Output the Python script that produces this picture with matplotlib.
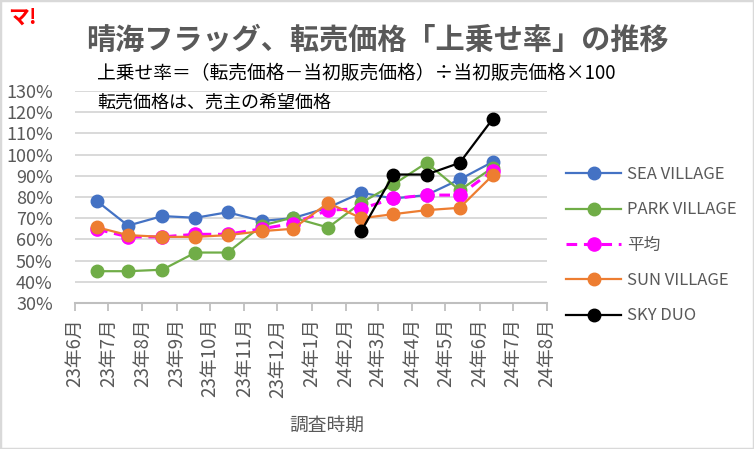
import matplotlib
matplotlib.use('Agg')
import matplotlib.pyplot as plt
from matplotlib.patches import Rectangle
import numpy as np
import pandas as pd

plt.rcParams['font.family'] = ['Noto Sans CJK JP', 'DejaVu Sans']

# ---------------- data ----------------
survey_dates = ['2023-06-21', '2023-07-19', '2023-08-19', '2023-09-18', '2023-10-17',
                '2023-11-17', '2023-12-15', '2024-01-16', '2024-02-15', '2024-03-15',
                '2024-04-14', '2024-05-14', '2024-06-13']
sea_village = [78.0, 66.5, 71.0, 70.2, 72.8, 68.7, 70.0, 75.0, 82.0, 79.3, 80.9, 88.3, 96.6]
park_village = [45.0, 45.0, 45.7, 53.8, 53.8, 66.5, 70.3, 65.6, 77.3, 85.9, 96.1, 83.2, 93.9]
average = [64.8, 61.2, 61.2, 62.4, 62.4, 65.0, 67.5, 73.8, 74.5, 79.3, 80.9, 80.9, 92.4]
sun_village = [65.7, 62.0, 61.2, 61.2, 62.0, 63.9, 65.0, 77.2, 70.0, 71.9, 73.8, 74.9, 90.3]
sky_duo = [np.nan] * 8 + [63.9, 90.6, 90.6, 96.1, 116.9]

tick_months = ['2023-06-01', '2023-07-01', '2023-08-01', '2023-09-01', '2023-10-01',
               '2023-11-01', '2023-12-01', '2024-01-01', '2024-02-01', '2024-03-01',
               '2024-04-01', '2024-05-01', '2024-06-01', '2024-07-01', '2024-08-01']
tick_labels = ['23年6月', '23年7月', '23年8月', '23年9月', '23年10月', '23年11月', '23年12月',
               '24年1月', '24年2月', '24年3月', '24年4月', '24年5月', '24年6月', '24年7月', '24年8月']
y_ticks = [30, 40, 50, 60, 70, 80, 90, 100, 110, 120, 130]

series_names = ['SEA VILLAGE', 'PARK VILLAGE', '平均', 'SUN VILLAGE', 'SKY DUO']
series_values = [sea_village, park_village, average, sun_village, sky_duo]
series_colors = ['#4472C4', '#70AD47', '#FF00FF', '#ED7D31', '#000000']

# ---------------- figure ----------------
W, H = 754, 449
fig = plt.figure(figsize=(W / 100, H / 100), dpi=100)
fig.patches.append(Rectangle((0, 0), 1, 1, transform=fig.transFigure, fill=False,
                             edgecolor='#D9D9D9', linewidth=2.5))

ax = fig.add_axes([75 / W, (H - 303) / H, 472 / W, 212 / H])

x = pd.to_datetime(survey_dates)
for name, vals, col in zip(series_names, series_values, series_colors):
    if name == '平均':
        ax.plot(x, vals, color=col, lw=2.2, dashes=(3.5, 2.2), marker='o', ms=9.5,
                mfc=col, mec=col, label=name, zorder=3)
    else:
        ax.plot(x, vals, color=col, lw=1.6, marker='o', ms=9, mfc=col, mec=col,
                label=name, zorder=3)

ax.set_xlim(pd.Timestamp(tick_months[0]), pd.Timestamp(tick_months[-1]))
ax.set_ylim(30, 130)
ax.set_xticks(pd.to_datetime(tick_months))
ax.set_xticklabels(tick_labels, rotation=90, fontsize=13.5, color='#595959')
ax.set_yticks(y_ticks)
ax.set_yticklabels([f'{v}%' for v in y_ticks], fontsize=13, color='#595959')

ax.tick_params(axis='x', direction='out', length=6, width=1.3, color='#BFBFBF', pad=5)
ax.tick_params(axis='y', length=0, pad=16)
for s in ['left', 'right', 'top']:
    ax.spines[s].set_visible(False)
ax.spines['bottom'].set_color('#BFBFBF')
ax.spines['bottom'].set_linewidth(1.5)
ax.yaxis.grid(True, color='#D9D9D9', lw=1.4, zorder=0)
ax.set_axisbelow(True)

# x label
fig.text(327 / W, 1 - 425 / H, '調査時期', fontsize=13.5, color='#595959', ha='center', va='center')

# title & notes
fig.text(377 / W, 1 - 40 / H, '晴海フラッグ、転売価格「上乗せ率」の推移', fontsize=21,
         fontweight='bold', color='#595959', ha='center', va='center')
fig.text(97 / W, 1 - 74 / H, '上乗せ率＝（転売価格－当初販売価格）÷当初販売価格×100', fontsize=13.5,
         color='#000000', ha='left', va='center')
fig.text(97 / W, 1 - 103 / H, '転売価格は、売主の希望価格', fontsize=13,
         color='#000000', ha='left', va='center')
fig.text(8 / W, 1 - 17 / H, 'マ!', fontsize=15, fontweight='bold', color='#FF0000',
         ha='left', va='center')

# legend
handles, labels = ax.get_legend_handles_labels()
leg = fig.legend(handles, labels, loc='upper left', bbox_to_anchor=(566 / W, 1 - 166 / H),
                 frameon=False, fontsize=12, handlelength=3.3, handletextpad=0.35,
                 labelspacing=1.1, borderpad=0, borderaxespad=0, labelcolor='#595959')

fig.savefig('out.png', dpi=100)
